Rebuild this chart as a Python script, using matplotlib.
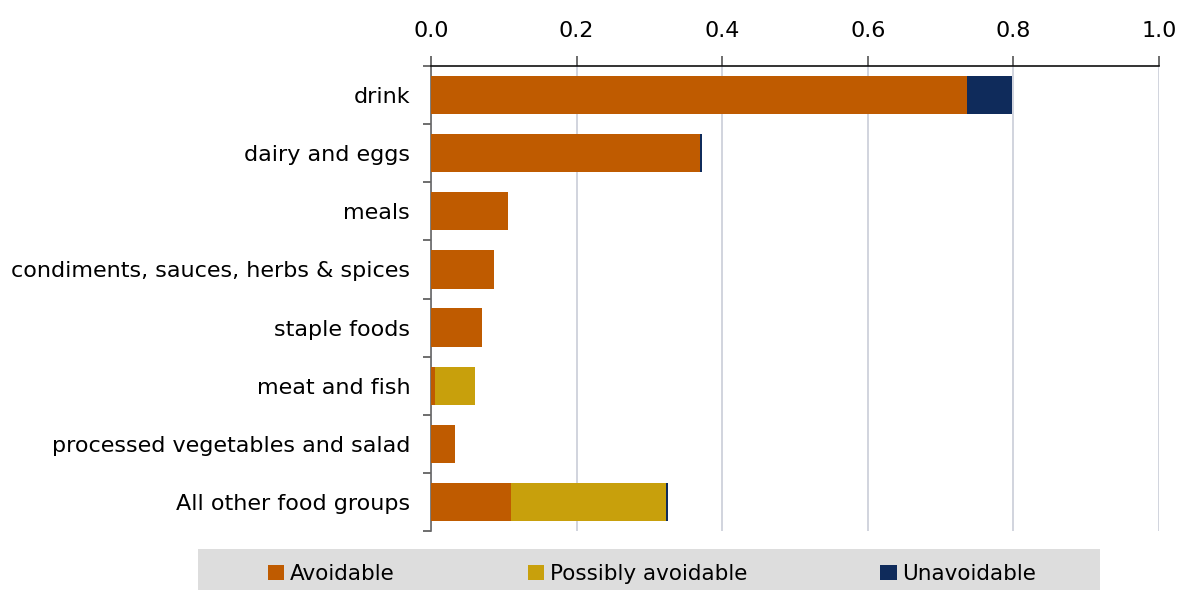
import matplotlib.pyplot as plt
import numpy as np
from matplotlib.patches import Rectangle

categories = [
    "drink",
    "dairy and eggs",
    "meals",
    "condiments, sauces, herbs & spices",
    "staple foods",
    "meat and fish",
    "processed vegetables and salad",
    "All other food groups",
]
avoidable = [0.736, 0.369, 0.106, 0.087, 0.070, 0.0055, 0.033, 0.110]
possibly_avoidable = [0.0, 0.0, 0.0, 0.0, 0.0, 0.0545, 0.0, 0.213]
unavoidable = [0.062, 0.003, 0.0, 0.0, 0.0, 0.0, 0.0, 0.003]
x_ticks = [0.0, 0.2, 0.4, 0.6, 0.8, 1.0]

COLORS = {"Avoidable": "#BF5B00", "Possibly avoidable": "#C8A00C", "Unavoidable": "#0F2B5B"}

plt.rcParams["font.family"] = ["DejaVu Sans"]

fig = plt.figure(figsize=(11.8, 5.9), dpi=100)
ax = fig.add_axes([431 / 1180, 1 - 531 / 590, 728 / 1180, 465 / 590])

y = np.arange(len(categories))
left = np.zeros(len(categories))
for label, values in [
    ("Avoidable", avoidable),
    ("Possibly avoidable", possibly_avoidable),
    ("Unavoidable", unavoidable),
]:
    ax.barh(y, values, left=left, height=0.66, color=COLORS[label], label=label, zorder=3)
    left += np.array(values)

ax.set_xlim(0, 1.0)
ax.set_ylim(len(categories) - 0.5, -0.5)
ax.set_xticks(x_ticks)
ax.set_xticklabels([f"{t:.1f}" for t in x_ticks])
ax.xaxis.tick_top()
ax.tick_params(axis="x", direction="out", length=7, width=1.2, color="#555555",
               pad=11, labelsize=16)
ax.grid(axis="x", color="#C9CDD8", linewidth=1.2, zorder=0)

ax.set_yticks(y)
ax.set_yticklabels(categories)
ax.tick_params(axis="y", which="major", length=0, pad=15, labelsize=16)
ax.set_yticks(np.arange(-0.5, len(categories)), minor=True)
ax.tick_params(axis="y", which="minor", direction="out", length=6, width=1.2, color="#555555")

for side in ["right", "bottom"]:
    ax.spines[side].set_visible(False)
ax.spines["top"].set_color("#111111")
ax.spines["top"].set_linewidth(1.2)
ax.spines["left"].set_color("#666666")
ax.spines["left"].set_linewidth(1.2)

fig.patches.append(Rectangle((198 / 1180, 0), 902 / 1180, 41 / 590,
                             transform=fig.transFigure, facecolor="#DDDDDD",
                             edgecolor="none", zorder=0))
handles, labels = ax.get_legend_handles_labels()
fig.legend(handles, labels, loc="center", bbox_to_anchor=(652 / 1180, 16 / 590),
           ncol=3, frameon=False, fontsize=15.5, handlelength=0.75, handleheight=0.75,
           handletextpad=0.25, columnspacing=6.2)

fig.savefig("out.png", dpi=100)
